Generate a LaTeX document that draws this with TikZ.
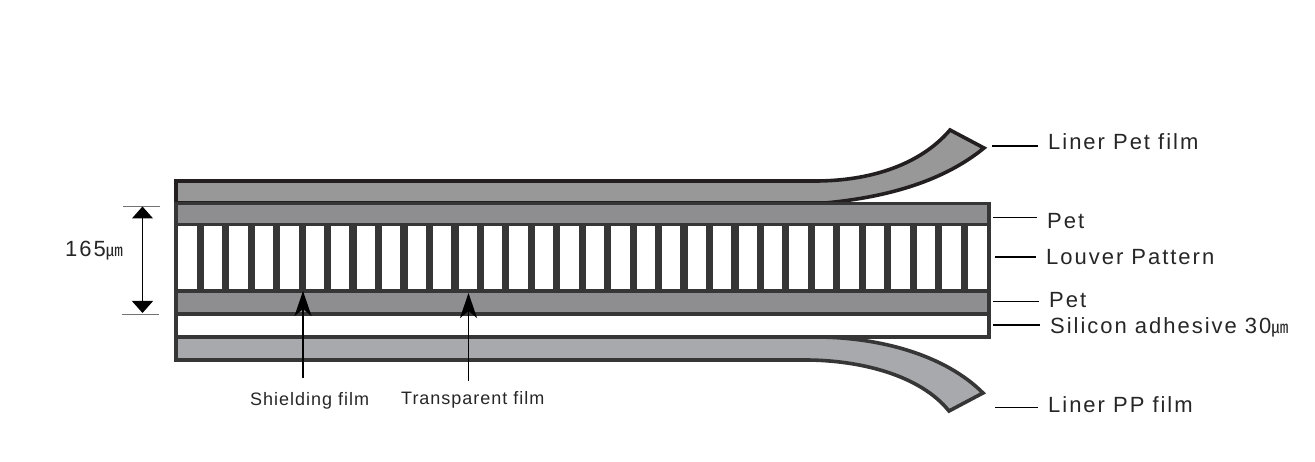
\documentclass[tikz,border=0pt]{standalone}
\usepackage{fontspec}
\setmainfont{Liberation Sans}
\newfontfamily\cjk{Noto Sans CJK KR}
\newfontfamily\biglabel[LetterSpace=9]{Liberation Sans}
\newfontfamily\smalllabel[LetterSpace=5.5]{Liberation Sans}
\usetikzlibrary{arrows.meta}
\definecolor{edgeA}{HTML}{231F20}
\definecolor{edgeB}{HTML}{363636}
\definecolor{petgrey}{HTML}{8E8E90}
\definecolor{linerA}{HTML}{989899}
\definecolor{linerB}{HTML}{A7A9AC}
\tikzset{
  x=1pt,y=-1pt,
  layer/.style={draw=edgeB,line width=3.6pt,miter limit=10,line join=miter},
  bigtext/.style={inner sep=0pt,anchor=west,text=black!85,font={\fontsize{22}{24}\biglabel}},
  smalltext/.style={inner sep=0pt,anchor=west,text=black!85,font={\fontsize{18}{20}\smalllabel}},
  leader/.style={draw=black,line width=1.6pt,shorten >=10pt},
  pointer/.style={draw=black,line width=1.5pt,-{Stealth[length=25pt,width=17pt,inset=7pt]}},
  dimline/.style={draw=black,line width=1pt,{Triangle[length=12pt,width=21pt]}-{Triangle[length=12pt,width=21pt]}},
  tick/.style={draw=black!55,line width=1pt},
}
\begin{document}
\begin{tikzpicture}
\useasboundingbox (0,0) rectangle (1315,462);
% top liner
\draw[layer,draw=edgeA,fill=linerA] (176,203) -- (176,181) -- (815,181)
  .. controls (870,181) and (920,165) .. (950,130) -- (984,148)
  .. controls (945,180) and (890,197) .. (825,203) -- cycle;
% bottom liner
\draw[layer,fill=linerB] (176,337) -- (176,360) -- (805,360)
  .. controls (860,360) and (920,375) .. (949,411) -- (983,393)
  .. controls (945,355) and (880,337) .. (815,337) -- cycle;
% stack
\draw[layer,fill=petgrey] (176,203.5) rectangle (989,224.5);
\draw[layer,fill=white] (176,224.5) rectangle (989,291);
\foreach \i in {0,...,30}{
  \fill[edgeB] ({200.3+25.46*\i-3.6},224.5) rectangle ({200.3+25.46*\i+3.6},291);
}
\draw[layer,fill=petgrey] (176,291) rectangle (989,314);
\draw[layer,fill=white] (176,314) rectangle (989,337);
% dimension
\coordinate (dimTop) at (142.5,206.5);
\coordinate (dimBot) at (142.5,313);
\coordinate (tickAl) at (123,206.5);
\coordinate (tickAr) at (160,206.5);
\coordinate (tickBl) at (122,315);
\coordinate (tickBr) at (159,315);
\draw[tick] (tickAl) -- (tickAr);
\draw[tick] (tickBl) -- (tickBr);
\draw[dimline] (dimTop) -- (dimBot);
\node[inner sep=0pt,anchor=west,text=black!85] (dimlabel) at (65,251)
  {{\fontsize{22}{24}\biglabel 165}{\fontsize{17}{20}\cjk ㎛}};
% pointers
\node[smalltext] (shield) at (250,400.5) {Shielding film};
\node[smalltext] (transp) at (401,399.5) {Transparent film};
\coordinate (shieldS) at (303,378);
\coordinate (shieldE) at (303,291);
\coordinate (transpS) at (468.5,381);
\coordinate (transpE) at (468.5,293);
\draw[pointer] (shieldS) -- (shieldE);
\draw[pointer] (transpS) -- (transpE);
% labels
\node[bigtext] (l1) at (1048,142) {Liner Pet film};
\node[bigtext] (l2) at (1047,221) {Pet};
\node[bigtext] (l3) at (1046,257.5) {Louver Pattern};
\node[bigtext] (l4) at (1049,300) {Pet};
\node[bigtext] (l5) at (1050,327) {Silicon adhesive 30{\fontsize{17}{20}\cjk ㎛}};
\node[bigtext] (l6) at (1048,405) {Liner PP film};
\coordinate (s1) at (992,146);
\coordinate (s2) at (993,217.5);
\coordinate (s3) at (995,257);
\coordinate (s4) at (993,301.5);
\coordinate (s5) at (993,325);
\coordinate (s6) at (995,407.5);
\foreach \n in {1,...,6}{
  \draw[leader] (s\n) -- (s\n -| l\n.west);
}
\end{tikzpicture}
\end{document}
